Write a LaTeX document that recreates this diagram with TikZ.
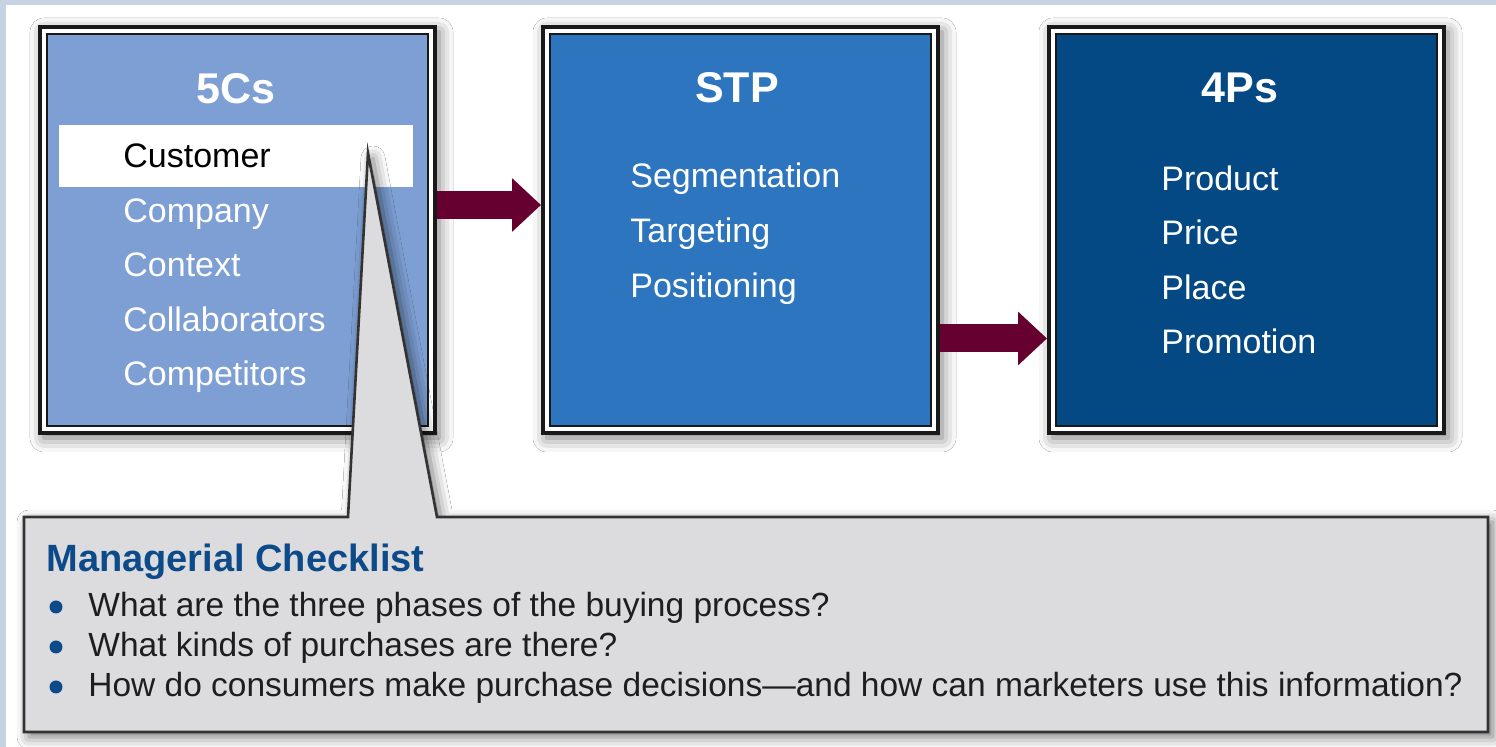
\documentclass[tikz,border=0pt]{standalone}
\usepackage{fontspec}
\setmainfont{Liberation Sans}
\usetikzlibrary{shadows.blur,arrows.meta}
\definecolor{cfive}{RGB}{125,159,212}
\definecolor{cstp}{RGB}{45,117,190}
\definecolor{cfour}{RGB}{5,73,132}
\definecolor{arrowc}{RGB}{102,0,48}
\definecolor{calloutc}{RGB}{220,220,222}
\definecolor{titleblue}{RGB}{12,74,138}
\definecolor{bandc}{RGB}{197,211,227}
\definecolor{txtc}{RGB}{30,30,30}
\tikzset{
  outerbox/.style={draw=black!90, line width=2pt, fill=white, minimum width=197.5pt,
    minimum height=203pt, inner sep=0pt,
    blur shadow={shadow xshift=2pt, shadow yshift=-2.5pt, shadow blur radius=7pt, shadow opacity=55}},
  innerfill/.style={draw=black!90, line width=1pt},
  boxtitle/.style={font=\fontsize{21.5}{25}\selectfont\bfseries, text=white, anchor=base, inner sep=0pt},
  item/.style={font=\fontsize{17}{20}\selectfont, text=white, anchor=base west, inner sep=0pt},
  bigarrow/.style={draw=arrowc, line width=14pt, -{Triangle[length=14.5pt,width=26pt]}},
  callout/.style={fill=calloutc, draw=black!80, line width=1.3pt, line join=miter,
    blur shadow={shadow xshift=2.5pt, shadow yshift=-2.5pt, shadow blur radius=6pt, shadow opacity=55}},
  cltitle/.style={font=\fontsize{19}{22}\selectfont\bfseries, text=titleblue, anchor=base west, inner sep=0pt},
  cltext/.style={font=\fontsize{16.75}{20}\selectfont, text=txtc, anchor=base west, inner sep=0pt},
  bulletdot/.style={circle, fill=titleblue, minimum size=6.5pt, inner sep=0pt},
}
\begin{document}
\begin{tikzpicture}[x=0.5pt, y=-0.5pt]
\useasboundingbox (0,0) rectangle (1496,747);
\fill[white] (0,0) rectangle (1496,747);
\fill[bandc] (0,0) rectangle (6,747);
\fill[bandc] (0,0) rectangle (1496,5);

% boxes
\node[outerbox] (b1) at (237.5,230) {};
\node[outerbox] (b2) at (740.5,230) {};
\node[outerbox] (b3) at (1246.5,230) {};
\draw[innerfill, fill=cfive] ([shift={(9,9)}]b1.north west) rectangle ([shift={(-9,-9)}]b1.south east);
\draw[innerfill, fill=cstp] ([shift={(9,9)}]b2.north west) rectangle ([shift={(-9,-9)}]b2.south east);
\draw[innerfill, fill=cfour] ([shift={(9,9)}]b3.north west) rectangle ([shift={(-9,-9)}]b3.south east);

% 5Cs
\node[boxtitle] (t1) at (236,104) {5Cs};
\fill[white] (59,125) rectangle (413,187);
\node[item, text=black] (c1) at (123,168) {Customer};
\node[item] (c2) at (123,222.5) {Company};
\node[item] (c3) at (123,277) {Context};
\node[item] (c4) at (123,331.5) {Collaborators};
\node[item] (c5) at (123,386) {Competitors};

% STP
\node[boxtitle] (t2) at (737,103) {STP};
\node[item] (s1) at (630,188) {Segmentation};
\node[item] (s2) at (630,243) {Targeting};
\node[item] (s3) at (630,298) {Positioning};

% 4Ps
\node[boxtitle] (t3) at (1240,103) {4Ps};
\node[item] (p1) at (1161,191) {Product};
\node[item] (p2) at (1161,245) {Price};
\node[item] (p3) at (1161,299.5) {Place};
\node[item] (p4) at (1161,354) {Promotion};

% arrows
\draw[bigarrow] (b1.east |- 0,205) -- (b2.west |- 0,205);
\draw[bigarrow] (b2.east |- 0,338.5) -- (b3.west |- 0,338.5);

% callout
\coordinate (tip) at (368,153);
\draw[callout] (24,517) -- (348,517) -- (tip) -- (437,517) -- (1488,517) -- (1488,732) -- (24,732) -- cycle;
\node[cltitle] (clt) at (46,572) {Managerial Checklist};
\node[bulletdot] (d1) at (56,607) {};
\node[bulletdot] (d2) at (56,647) {};
\node[bulletdot] (d3) at (56,687) {};
\node[cltext] (q1) at (88,617) {What are the three phases of the buying process?};
\node[cltext] (q2) at (88,657) {What kinds of purchases are there?};
\node[cltext] (q3) at (88,697) {How do consumers make purchase decisions—and how can marketers use this information?};
\end{tikzpicture}
\end{document}
